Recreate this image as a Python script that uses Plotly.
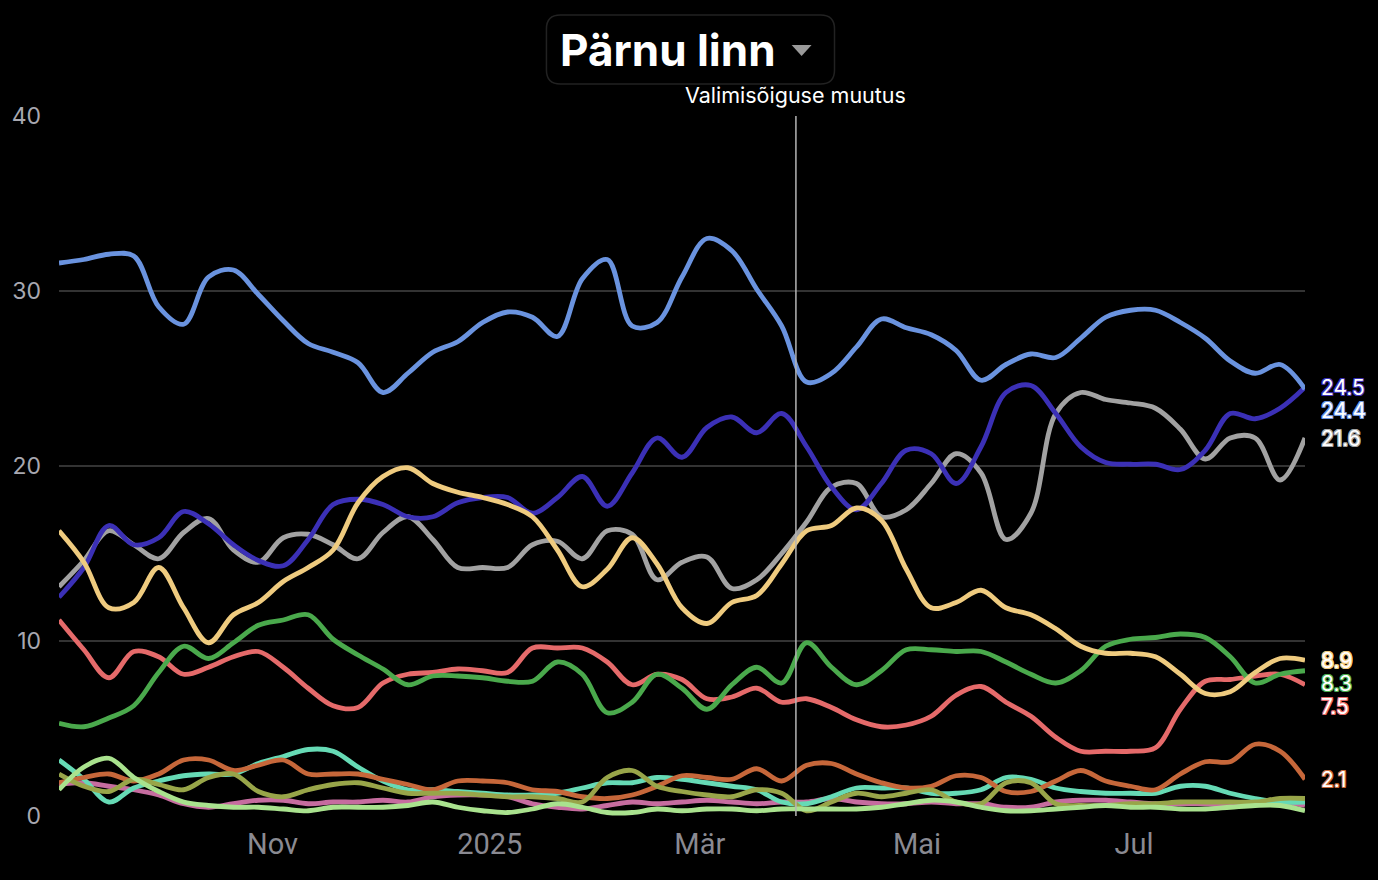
import plotly.graph_objects as go
import pandas as pd

# ---------------- data ----------------
start_date = "2024-09-02"
n_weeks = 51
dates = pd.date_range(start_date, periods=n_weeks, freq="7D")

tick_dates = ["2024-11-01", "2025-01-01", "2025-03-01", "2025-05-01", "2025-07-01"]
tick_labels = ["Nov", "2025", "Mär", "Mai", "Jul"]
y_ticks = [0, 10, 20, 30, 40]

event_date = "2025-03-28"
event_label = "Valimisõiguse muutus"
title_text = "Pärnu linn"

light_blue = [31.6, 31.8, 32.1, 32.0, 29.1, 28.1, 30.8, 31.2, 29.8, 28.3,
              27.0, 26.5, 25.9, 24.2, 25.3, 26.5, 27.1, 28.2, 28.8, 28.5,
              27.4, 30.7, 31.8, 28.0, 28.2, 30.8, 33.0, 32.3, 30.1, 28.0,
              24.8, 25.3, 26.8, 28.4, 27.9, 27.5, 26.6, 24.9, 25.8, 26.4,
              26.2, 27.3, 28.5, 28.9, 28.9, 28.2, 27.3, 26.0, 25.3, 25.8, 24.4]
indigo = [12.5, 14.2, 16.6, 15.5, 15.9, 17.4, 16.7, 15.5, 14.6, 14.3,
          15.8, 17.8, 18.1, 17.8, 17.1, 17.1, 17.9, 18.2, 18.2, 17.3,
          18.2, 19.4, 17.7, 19.6, 21.6, 20.5, 22.2, 22.8, 21.9, 23.0,
          21.1, 18.8, 17.5, 19.0, 20.9, 20.7, 19.0, 21.1, 24.2, 24.6,
          23.0, 21.1, 20.2, 20.1, 20.1, 19.8, 20.9, 23.0, 22.7, 23.3, 24.5]
gray = [13.1, 14.6, 16.3, 15.5, 14.7, 16.2, 17.0, 15.2, 14.5, 15.9,
        16.1, 15.5, 14.7, 16.2, 17.1, 15.8, 14.2, 14.2, 14.2, 15.5,
        15.7, 14.7, 16.3, 16.1, 13.5, 14.5, 14.8, 13.0, 13.5, 15.0,
        16.8, 18.8, 19.0, 17.1, 17.5, 19.0, 20.7, 19.6, 15.8, 17.3,
        23.0, 24.2, 23.8, 23.6, 23.3, 22.1, 20.4, 21.6, 21.6, 19.2, 21.6]
yellow = [16.3, 14.5, 11.9, 12.2, 14.2, 11.9, 9.9, 11.5, 12.2, 13.4,
          14.2, 15.2, 17.9, 19.4, 19.9, 19.0, 18.5, 18.2, 17.8, 17.1,
          15.2, 13.1, 14.1, 15.9, 14.4, 11.9, 11.0, 12.2, 12.6, 14.4,
          16.3, 16.6, 17.6, 16.9, 14.1, 11.9, 12.2, 12.9, 11.9, 11.5,
          10.7, 9.7, 9.3, 9.3, 9.1, 8.1, 7.0, 7.1, 8.2, 9.0, 8.9]
green = [5.3, 5.1, 5.6, 6.3, 8.2, 9.7, 9.0, 9.9, 10.9, 11.2,
         11.5, 10.1, 9.2, 8.4, 7.5, 8.0, 8.0, 7.9, 7.7, 7.7,
         8.8, 8.1, 5.9, 6.5, 8.1, 7.3, 6.1, 7.5, 8.5, 7.6,
         9.9, 8.5, 7.5, 8.3, 9.5, 9.5, 9.4, 9.4, 8.8, 8.1,
         7.6, 8.3, 9.7, 10.1, 10.2, 10.4, 10.2, 9.1, 7.6, 8.1, 8.3]
red = [11.2, 9.5, 7.9, 9.4, 9.1, 8.1, 8.5, 9.1, 9.4, 8.5,
       7.3, 6.3, 6.2, 7.6, 8.1, 8.2, 8.4, 8.3, 8.2, 9.6,
       9.6, 9.6, 8.8, 7.5, 8.1, 7.8, 6.7, 6.8, 7.3, 6.5,
       6.7, 6.2, 5.5, 5.1, 5.2, 5.7, 6.9, 7.4, 6.5, 5.7,
       4.5, 3.7, 3.7, 3.7, 3.9, 6.1, 7.7, 7.8, 8.0, 8.1, 7.5]
orange = [1.9, 2.2, 2.4, 2.0, 2.4, 3.2, 3.2, 2.6, 2.9, 3.2,
          2.4, 2.4, 2.4, 2.1, 1.8, 1.5, 2.0, 2.0, 1.9, 1.5,
          1.4, 1.1, 1.0, 1.2, 1.7, 2.3, 2.2, 2.1, 2.7, 2.0,
          2.9, 3.0, 2.4, 1.9, 1.6, 1.7, 2.3, 2.2, 1.4, 1.4,
          2.0, 2.6, 2.0, 1.7, 1.5, 2.4, 3.1, 3.1, 4.1, 3.7, 2.1]
turquoise = [3.2, 2.1, 0.8, 1.6, 2.0, 2.3, 2.4, 2.4, 3.0, 3.4,
             3.8, 3.7, 2.8, 2.0, 1.5, 1.5, 1.4, 1.3, 1.2, 1.2,
             1.3, 1.6, 1.9, 1.9, 2.2, 2.1, 1.9, 1.7, 1.5, 0.8,
             0.7, 1.1, 1.6, 1.6, 1.6, 1.3, 1.3, 1.5, 2.2, 2.1,
             1.6, 1.4, 1.3, 1.3, 1.3, 1.7, 1.7, 1.3, 1.0, 0.8, 0.8]
olive = [2.4, 1.7, 1.4, 2.1, 1.8, 1.5, 2.2, 2.4, 1.4, 1.1,
         1.5, 1.8, 1.9, 1.6, 1.3, 1.3, 1.3, 1.2, 1.1, 1.1,
         1.0, 0.8, 2.2, 2.6, 1.7, 1.4, 1.2, 1.1, 1.5, 1.3,
         0.3, 0.8, 1.3, 1.1, 1.3, 1.5, 0.8, 0.7, 1.9, 1.9,
         0.7, 0.6, 0.6, 0.7, 0.7, 0.8, 0.8, 0.8, 0.8, 1.0, 1.0]
pink = [1.8, 1.9, 1.7, 1.5, 1.2, 0.7, 0.5, 0.7, 0.9, 0.9,
        0.7, 0.8, 0.8, 0.9, 0.8, 1.1, 1.2, 1.2, 1.1, 0.7,
        0.5, 0.4, 0.6, 0.8, 0.7, 0.8, 0.9, 0.8, 0.7, 0.8,
        0.8, 1.0, 0.8, 0.7, 0.7, 0.8, 0.7, 0.7, 0.5, 0.5,
        0.8, 0.9, 0.9, 0.8, 0.7, 0.7, 0.7, 0.6, 0.7, 0.8, 0.6]
light_green = [1.5, 2.8, 3.3, 2.2, 1.4, 0.8, 0.6, 0.5, 0.5, 0.4,
               0.3, 0.5, 0.5, 0.5, 0.6, 0.8, 0.5, 0.3, 0.2, 0.4,
               0.7, 0.5, 0.2, 0.2, 0.4, 0.3, 0.4, 0.4, 0.3, 0.4,
               0.4, 0.4, 0.4, 0.5, 0.7, 0.9, 0.8, 0.5, 0.3, 0.3,
               0.4, 0.5, 0.6, 0.5, 0.5, 0.4, 0.4, 0.5, 0.6, 0.6, 0.3]

# drawing order: first is bottom
series = [
    ("Pink", pink, "#c66c9f"),
    ("Turquoise", turquoise, "#66dab5"),
    ("Orange", orange, "#c6673a"),
    ("Olive", olive, "#98a549"),
    ("Light green", light_green, "#a9e28e"),
    ("Red", red, "#e56a6a"),
    ("Green", green, "#4aa94c"),
    ("Gray", gray, "#a2a2a2"),
    ("Indigo", indigo, "#3b30b6"),
    ("Light blue", light_blue, "#6a93df"),
    ("Yellow", yellow, "#efcb7f"),
]

# ---------------- layout geometry ----------------
W, H = 1378, 880
ML, MR, MT, MB = 55, 73, 116, 64
plot_w = W - ML - MR
plot_h = H - MT - MB
y_min, y_max = 0, 40

fig = go.Figure()
for name, vals, col in series:
    fig.add_trace(go.Scatter(
        x=dates, y=vals, mode="lines", name=name,
        line=dict(color=col, width=4.8, shape="spline", smoothing=1.0),
        hoverinfo="skip", showlegend=False,
    ))

# end labels with simple collision avoidance
px_per_unit = plot_h / (y_max - y_min)
label_items = [(vals[-1], col) for _, vals, col in series if vals[-1] >= 2]
label_items.sort(key=lambda t: -t[0])
min_gap = 23
placed = []
for v, col in label_items:
    nat = (y_max - v) * px_per_unit
    pos = nat if not placed else max(nat, placed[-1][2] + min_gap)
    placed.append((v, col, pos, nat))

annotations = []
for v, col, pos, nat in placed:
    shadow = ", ".join(f"{dx}px {dy}px 0 {col}" for dx, dy in
                       [(-1, -1), (1, -1), (-1, 1), (1, 1), (0, 1), (0, -1), (1, 0), (-1, 0)])
    annotations.append(dict(
        x=dates[-1], y=v, xref="x", yref="y", text=f"{v:.1f}",
        showarrow=False, xanchor="left", yanchor="middle",
        xshift=15, yshift=-(pos - nat), borderpad=0,
        font=dict(family="Inter, Roboto, sans-serif", size=21, color="white", shadow=shadow),
    ))

# event line label
annotations.append(dict(
    x=event_date, y=1, xref="x", yref="paper", text=event_label,
    showarrow=False, xanchor="center", yanchor="bottom", yshift=6,
    font=dict(family="Inter, Roboto, sans-serif", size=21.5, color="white"),
))


def px_to_paper(px, py):
    return (px - ML) / plot_w, (H - MB - py) / plot_h


# title
tx, ty = px_to_paper(666, 50)
annotations.append(dict(
    x=tx, y=ty, xref="paper", yref="paper", text=f"<b>{title_text}</b>",
    showarrow=False, xanchor="center", yanchor="middle",
    font=dict(family="Inter, Lato, sans-serif", size=44, color="white", weight=800),
))


def rounded_rect(x0, y0, x1, y1, r):
    a = px_to_paper
    p = lambda x, y: "{:.5f},{:.5f}".format(*a(x, y))
    path = (f"M {p(x0 + r, y0)} L {p(x1 - r, y0)} Q {p(x1, y0)} {p(x1, y0 + r)} "
            f"L {p(x1, y1 - r)} Q {p(x1, y1)} {p(x1 - r, y1)} "
            f"L {p(x0 + r, y1)} Q {p(x0, y1)} {p(x0, y1 - r)} "
            f"L {p(x0, y0 + r)} Q {p(x0, y0)} {p(x0 + r, y0)} Z")
    return path


shapes = [
    dict(type="line", xref="x", yref="y", x0=event_date, x1=event_date, y0=y_min, y1=y_max,
         line=dict(color="#b5b5b5", width=1.5), layer="above"),
    dict(type="path", xref="paper", yref="paper", path=rounded_rect(544, 15, 833, 84, 14),
         line=dict(color="#222222", width=1.5), fillcolor="rgba(0,0,0,0)"),
]
t1 = px_to_paper(790, 45)
t2 = px_to_paper(810, 45)
t3 = px_to_paper(800, 56)
shapes.append(dict(type="path", xref="paper", yref="paper",
                   path=f"M {t1[0]:.5f},{t1[1]:.5f} L {t2[0]:.5f},{t2[1]:.5f} L {t3[0]:.5f},{t3[1]:.5f} Z",
                   line=dict(width=0), fillcolor="#9a9a9a"))

fig.update_layout(
    width=W, height=H,
    margin=dict(l=ML, r=MR, t=MT, b=MB),
    paper_bgcolor="black", plot_bgcolor="black",
    annotations=annotations, shapes=shapes,
    xaxis=dict(
        range=[dates[0], dates[-1]], tickvals=tick_dates, ticktext=tick_labels,
        showgrid=False, zeroline=False, showline=False, ticks="",
        tickfont=dict(family="Roboto, sans-serif", size=29, color="#8a8a92"),
        ticklabelstandoff=8,
    ),
    yaxis=dict(
        range=[y_min, y_max], tickvals=y_ticks, showgrid=True, gridcolor="#333333",
        gridwidth=1.5, zeroline=False, showline=False, ticks="",
        tickfont=dict(family="Inter, sans-serif", size=23, color="#a8a8b0"),
        ticklabelstandoff=17,
    ),
)

fig.write_html(
    "out.html",
    config={"displayModeBar": False},
    post_script="document.body.style.margin='0';document.body.style.overflow='hidden';",
)
